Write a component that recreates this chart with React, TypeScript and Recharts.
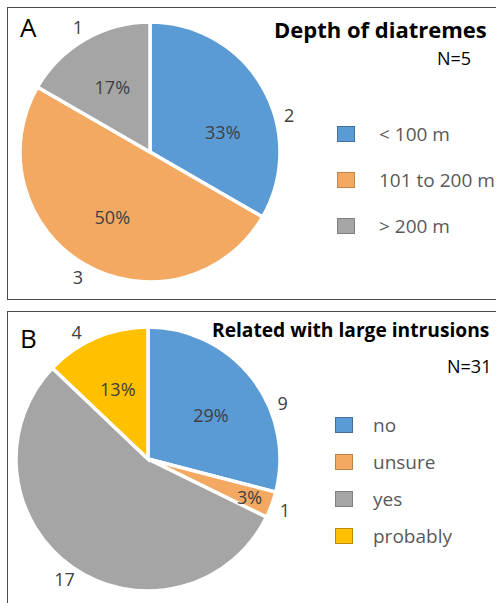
import { PieChart, Pie, Cell, Legend } from "recharts";

const depthLabels = ["< 100 m", "101 to 200 m", "> 200 m"];
const depthCounts = [2, 3, 1];
const depthColors = ["#5B9BD5", "#F4A962", "#A5A5A5"];
const depthEdges = ["#41719C", "#C0844A", "#7F7F7F"];

const intrusionLabels = ["no", "unsure", "yes", "probably"];
const intrusionCounts = [9, 1, 17, 4];
const intrusionColors = ["#5B9BD5", "#F4A962", "#A5A5A5", "#FFC000"];
const intrusionEdges = ["#41719C", "#C0844A", "#7F7F7F", "#BC8C00"];

const FONT = "'Open Sans', sans-serif";
const RAD = Math.PI / 180;

interface PanelProps {
  letter: string;
  title: string;
  total: string;
  labels: string[];
  counts: number[];
  colors: string[];
  edges: string[];
  top: number;
  height: number;
  cx: number;
  cy: number;
  radius: number;
  letterTop: number;
  titleLeft: number;
  titleTop: number;
  titleSize: number;
  totalLeft: number;
  totalTop: number;
  legendLeft: number;
  legendTop: number;
  legendGap: number;
  textGap: number;
  hidePct?: string[];
  pctTurn: number[];
  valueTurn: number[];
}

function Panel(p: PanelProps) {
  const data = p.labels.map((name, i) => ({ name, value: p.counts[i] }));

  // percentage inside the slice, raw count just outside the rim
  const renderLabel = (props: any) => {
    const { cx, cy, midAngle, outerRadius, percent, value, name, index } = props;
    const small = percent < 0.05;
    const pa = (midAngle + p.pctTurn[index]) * RAD;
    const pr = outerRadius * (small ? 0.82 : 0.58);
    const va = (midAngle + p.valueTurn[index]) * RAD;
    const vr = outerRadius + 14;
    const showPct = !(p.hidePct || []).includes(name);
    return (
      <g>
        {showPct && (
          <text
            x={cx + pr * Math.cos(pa)}
            y={cy - pr * Math.sin(pa)}
            textAnchor="middle"
            dominantBaseline="central"
            fill="#404040"
            fontSize={18}
            fontFamily={FONT}
          >
            {Math.round(percent * 100)}%
          </text>
        )}
        <text
          x={cx + vr * Math.cos(va)}
          y={cy - vr * Math.sin(va)}
          textAnchor="middle"
          dominantBaseline="central"
          fill="#404040"
          fontSize={18}
          fontFamily={FONT}
        >
          {value}
        </text>
      </g>
    );
  };

  const renderLegend = () => (
    <div>
      {p.labels.map((name, i) => (
        <div
          key={name}
          style={{
            display: "flex",
            alignItems: "center",
            height: p.legendGap,
            fontFamily: FONT,
            fontSize: 19,
            color: "#595959",
            whiteSpace: "nowrap",
          }}
        >
          <span
            style={{
              width: 16,
              height: 14,
              background: p.colors[i],
              border: `1px solid ${p.edges[i]}`,
              marginRight: p.textGap,
              flex: "none",
            }}
          />
          {name}
        </div>
      ))}
    </div>
  );

  return (
    <div
      style={{
        position: "absolute",
        left: 0,
        top: p.top,
        width: 496,
        height: p.height,
      }}
    >
      <PieChart
        width={496}
        height={p.height}
        margin={{ top: 0, right: 0, bottom: 0, left: 0 }}
      >
        <Pie
          data={data}
          dataKey="value"
          nameKey="name"
          cx={p.cx}
          cy={p.cy}
          outerRadius={p.radius}
          startAngle={90}
          endAngle={-270}
          stroke="#ffffff"
          strokeWidth={3.5}
          label={renderLabel}
          labelLine={false}
          isAnimationActive={false}
        >
          {data.map((d, i) => (
            <Cell key={d.name} fill={p.colors[i]} />
          ))}
        </Pie>
        <Legend
          content={renderLegend}
          wrapperStyle={{ left: p.legendLeft, top: p.legendTop, width: 170 }}
        />
      </PieChart>
      <div
        style={{
          position: "absolute",
          left: 20,
          top: p.letterTop,
          fontFamily: FONT,
          fontSize: 26,
          color: "#000",
          lineHeight: 1,
        }}
      >
        {p.letter}
      </div>
      <div
        style={{
          position: "absolute",
          left: p.titleLeft,
          top: p.titleTop,
          fontFamily: FONT,
          fontSize: p.titleSize,
          fontWeight: 700,
          color: "#000",
          lineHeight: 1,
          whiteSpace: "nowrap",
        }}
      >
        {p.title}
      </div>
      <div
        style={{
          position: "absolute",
          left: p.totalLeft,
          top: p.totalTop,
          fontFamily: FONT,
          fontSize: 18,
          color: "#000",
          lineHeight: 1,
        }}
      >
        {p.total}
      </div>
    </div>
  );
}

export default function App() {
  return (
    <div
      style={{
        position: "absolute",
        left: 0,
        top: 0,
        width: 496,
        height: 603,
        background: "#fff",
        overflow: "hidden",
      }}
    >
      {/* panel frames, right side runs off the edge */}
      <div
        style={{
          position: "absolute",
          left: 7,
          top: 7,
          width: 500,
          height: 291,
          border: "1.5px solid #4a4a4a",
        }}
      />
      <div
        style={{
          position: "absolute",
          left: 7,
          top: 311,
          width: 500,
          height: 300,
          border: "1.5px solid #4a4a4a",
        }}
      />
      <Panel
        letter="A"
        title="Depth of diatremes"
        total="N=5"
        labels={depthLabels}
        counts={depthCounts}
        colors={depthColors}
        edges={depthEdges}
        top={0}
        height={300}
        cx={150}
        cy={152}
        radius={130}
        letterTop={14}
        titleLeft={274}
        titleTop={18}
        titleSize={22}
        totalLeft={437}
        totalTop={49}
        legendLeft={337}
        legendTop={111}
        legendGap={46}
        textGap={24}
        pctTurn={[-15, 0, 0]}
        valueTurn={[-15, 0, 0]}
      />
      <Panel
        letter="B"
        title="Related with large intrusions"
        total="N=31"
        labels={intrusionLabels}
        counts={intrusionCounts}
        colors={intrusionColors}
        edges={intrusionEdges}
        top={300}
        height={303}
        cx={148}
        cy={159}
        radius={132}
        letterTop={25}
        titleLeft={212}
        titleTop={20}
        titleSize={19.2}
        totalLeft={447}
        totalTop={57}
        legendLeft={335}
        legendTop={106}
        legendGap={37}
        textGap={20}
        hidePct={["yes"]}
        pctTurn={[-3, 0, 0, 0]}
        valueTurn={[-15, 0, 0, 6]}
      />
    </div>
  );
}
